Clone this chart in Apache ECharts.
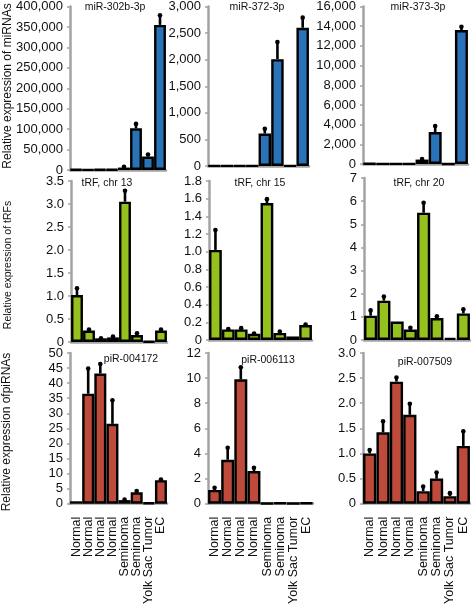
<!DOCTYPE html>
<html><head><meta charset="utf-8">
<script src="https://cdn.jsdelivr.net/npm/echarts@6/dist/echarts.min.js"></script>
<style>html,body{margin:0;padding:0;background:#fff}#c{width:471px;height:607px}</style>
</head><body><div id="c"></div>
<script>
const categories = ['Normal','Normal','Normal','Normal','Seminoma','Seminoma','Yolk Sac Tumor','EC'];

// miRNAs
const mir302Values = [1000, 800, 900, 1200, 6000, 102000, 33000, 355000];
const mir302Errors = [1000, 800, 900, 1200, 9000, 114000, 39000, 380000];
const mir372Values = [5, 5, 5, 5, 610, 2010, 5, 2600];
const mir372Errors = [5, 5, 5, 5, 710, 2340, 5, 2800];
const mir373Values = [60, 20, 20, 20, 450, 3250, 0, 13600];
const mir373Errors = [60, 20, 20, 20, 560, 3900, 0, 14000];
// tRFs
const trf13Values = [1.02, 0.25, 0.08, 0.1, 3.05, 0.15, 0.01, 0.25];
const trf13Errors = [1.18, 0.28, 0.09, 0.13, 3.3, 0.2, 0.01, 0.28];
const trf15Values = [1.02, 0.12, 0.12, 0.07, 1.55, 0.08, 0.04, 0.17];
const trf15Errors = [1.25, 0.13, 0.14, 0.08, 1.6, 0.1, 0.04, 0.18];
const trf20Values = [1.05, 1.7, 0.8, 0.45, 5.5, 0.95, 0.1, 1.15];
const trf20Errors = [1.3, 1.9, 0.8, 0.55, 5.95, 1.05, 0.1, 1.35];
// piRNAs
const pir004172Values = [0.8, 36.5, 43.2, 26.5, 1.2, 3.8, 0.3, 7.8];
const pir004172Errors = [0.8, 45, 46.5, 34.5, 1.5, 4.4, 0.3, 8.2];
const pir006113Values = [1.1, 3.5, 9.9, 2.6, 0.02, 0.06, 0.02, 0.06];
const pir006113Errors = [1.3, 4.5, 10.9, 2.9, 0.02, 0.06, 0.02, 0.06];
const pir007509Values = [1.0, 1.42, 2.43, 1.77, 0.25, 0.5, 0.15, 1.15];
const pir007509Errors = [1.08, 1.65, 2.52, 2.0, 0.35, 0.63, 0.22, 1.45];

const titles = ['miR-302b-3p','miR-372-3p','miR-373-3p','tRF, chr 13','tRF, chr 15','tRF, chr 20','piR-004172','piR-006113','piR-007509'];
const axisMax = [400000, 3000, 16000, 3.5, 1.8, 7, 50, 12, 3.0];
const axisInterval = [50000, 500, 2000, 0.5, 0.2, 1, 5, 2, 0.5];
const axisDecimals = [0, 0, 0, 1, 1, 0, 0, 0, 1];
const rowNames = ['Relative expression of miRNAs','Relative expression of tRFs','Relative expression ofpiRNAs'];

const valueSets = [mir302Values, mir372Values, mir373Values, trf13Values, trf15Values, trf20Values, pir004172Values, pir006113Values, pir007509Values];
const errorSets = [mir302Errors, mir372Errors, mir373Errors, trf13Errors, trf15Errors, trf20Errors, pir004172Errors, pir006113Errors, pir007509Errors];

const colors = ['#2b73b8', '#95c11f', '#bd4a3a'];
const rects = [
  [70, 5, 96, 165], [208, 5, 101, 161], [363, 4, 105, 160],
  [71, 181, 96, 161], [209, 181, 103, 159], [364, 178, 106, 162],
  [70, 353, 97, 163], [208, 353, 105, 163], [363, 353, 107, 164]
];
const titleCenters = [[115, 7], [257, 7], [418, 7], [107, 183], [260, 183], [419, 183], [131, 359], [268, 360], [425, 362]];
const FONT = "'Liberation Sans', Arial, Helvetica, sans-serif";

const grid = [], xAxis = [], yAxis = [], series = [], graphic = [];
for (let i = 0; i < 9; i++) {
  const r = rects[i];
  const row = Math.floor(i / 3);
  grid.push({left: r[0], top: r[1], width: r[2], height: r[3], containLabel: false});
  xAxis.push({
    type: 'category', gridIndex: i, data: categories,
    axisLine: {show: true, lineStyle: {color: '#a3a3a3', width: 2.5}},
    axisTick: {show: false},
    axisLabel: {show: row === 2, rotate: 90, interval: 0, margin: 13, color: '#111', fontSize: 12.5, fontFamily: FONT},
    splitLine: {show: false}
  });
  const dec = axisDecimals[i];
  yAxis.push({
    type: 'value', gridIndex: i, min: 0, max: axisMax[i], interval: axisInterval[i],
    axisLine: {show: true, lineStyle: {color: '#a3a3a3', width: 2.5}},
    axisTick: {show: true, length: 3, inside: false, lineStyle: {color: '#a3a3a3', width: 1.5}},
    axisLabel: {color: '#111', fontSize: 13, fontFamily: FONT, margin: 7,
      formatter: v => v === 0 ? '0' : (dec ? v.toFixed(dec) : v.toLocaleString('en-US'))},
    splitLine: {show: false}
  });
  series.push({
    type: 'bar', xAxisIndex: i, yAxisIndex: i, data: valueSets[i],
    barCategoryGap: '1%',
    itemStyle: {color: colors[row], borderColor: '#000', borderWidth: 2.4},
    silent: true, z: 2
  });
  const errData = valueSets[i].map((v, k) => [k, v, errorSets[i][k]]);
  series.push({
    type: 'custom', xAxisIndex: i, yAxisIndex: i, data: errData, z: 3, silent: true,
    encode: {x: 0, y: 1},
    renderItem: function (params, api) {
      const x = api.value(0), v = api.value(1), e = api.value(2);
      if (!(e > v)) return null;
      const p0 = api.coord([x, v]);
      const p1 = api.coord([x, e]);
      return {type: 'group', children: [
        {type: 'line', shape: {x1: p0[0], y1: p0[1], x2: p1[0], y2: p1[1]}, style: {stroke: '#000', lineWidth: 2.6}},
        {type: 'circle', shape: {cx: p1[0], cy: p1[1] + 0.5, r: 2.3}, style: {fill: '#000'}}
      ]};
    }
  });
  graphic.push({
    type: 'text', x: titleCenters[i][0], y: titleCenters[i][1], z: 10,
    style: {text: titles[i], fill: '#111', font: '10.5px ' + FONT, textAlign: 'center', textVerticalAlign: 'middle'}
  });
}

const nameCenters = [[8, 86], [8, 265], [7, 432]];
const nameSizes = [12, 10.5, 12];
rowNames.forEach((t, k) => graphic.push({
  type: 'text', x: nameCenters[k][0], y: nameCenters[k][1], rotation: Math.PI / 2,
  style: {text: t, fill: '#111', font: nameSizes[k] + 'px ' + FONT, textAlign: 'center', textVerticalAlign: 'middle'}
}));

const chart = echarts.init(document.getElementById('c'), null, {renderer: 'canvas'});
chart.setOption({animation: false, backgroundColor: '#fff', grid, xAxis, yAxis, series, graphic});
</script>
</body></html>
